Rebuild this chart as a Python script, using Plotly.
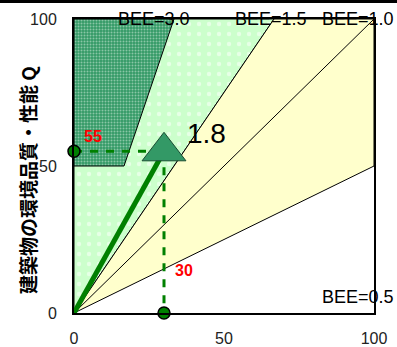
import plotly.graph_objects as go

# BEE boundary lines (Q = BEE * L)
bee_values = [3.0, 1.5, 1.0, 0.5]
bee_labels = ["BEE=3.0", "BEE=1.5", "BEE=1.0", "BEE=0.5"]

# S-rank lower bound of Q
s_rank_q = 50

# building result
point_L = 30
point_Q = 55
point_bee = "1.8"

axis_ticks = [0, 50, 100]

font_en = "Liberation Sans, Arial, sans-serif"
font_jp = "Noto Sans CJK JP, sans-serif"

fig = go.Figure()

b3, b15, b1, b05 = bee_values

# light green region (above BEE=1.5)
fig.add_trace(go.Scatter(
    x=[0, 100 / b15, 0, 0], y=[0, 100, 100, 0],
    mode="lines", fill="toself", line=dict(color="black", width=1),
    fillcolor="#ccffcc",
    fillpattern=dict(shape=".", bgcolor="#ccffcc", fgcolor="white", size=10, solidity=0.15),
    hoverinfo="skip"))

# yellow region (between BEE=1.5 and BEE=0.5)
fig.add_trace(go.Scatter(
    x=[0, 100, 100, 100 / b15, 0], y=[0, 100 * b05, 100, 100, 0],
    mode="lines", fill="toself", line=dict(color="black", width=1),
    fillcolor="#ffffcc", hoverinfo="skip"))

# dark green S region
fig.add_trace(go.Scatter(
    x=[0, s_rank_q / b3, 100 / b3, 0, 0], y=[s_rank_q, s_rank_q, 100, 100, s_rank_q],
    mode="lines", fill="toself", line=dict(color="black", width=1),
    fillcolor="#339966",
    fillpattern=dict(shape=".", bgcolor="#339966", fgcolor="#dff3e6", size=3, solidity=0.35),
    hoverinfo="skip"))

# BEE=1.0 line
fig.add_trace(go.Scatter(x=[0, 100], y=[0, 100 * b1], mode="lines",
                         line=dict(color="black", width=1), hoverinfo="skip"))

# dashed guide lines
fig.add_trace(go.Scatter(x=[0, point_L], y=[point_Q, point_Q], mode="lines",
                         line=dict(color="#008000", width=3, dash="8px,8px"), hoverinfo="skip"))
fig.add_trace(go.Scatter(x=[point_L, point_L], y=[point_Q, 0], mode="lines",
                         line=dict(color="#008000", width=3, dash="8px,8px"), hoverinfo="skip"))

# thick line from origin
fig.add_trace(go.Scatter(x=[0, point_L], y=[0, point_Q], mode="lines",
                         line=dict(color="#008000", width=5), hoverinfo="skip"))

# circles on axes
fig.add_trace(go.Scatter(x=[0, point_L], y=[point_Q, 0], mode="markers", cliponaxis=False,
                         marker=dict(size=12, color="#008000", line=dict(color="black", width=1.5)),
                         hoverinfo="skip"))

# result triangle
fig.add_trace(go.Scatter(x=[point_L], y=[point_Q], mode="markers", cliponaxis=False,
                         marker=dict(symbol="triangle-up", size=38, color="#339966",
                                     line=dict(color="#1a4d33", width=1)),
                         hoverinfo="skip"))


def pann(x, y, text, size, color="black", family=font_en, **kw):
    # position in axis units (0-100) but placed on paper so nothing is hidden
    return dict(x=x / 100, y=y / 100, xref="paper", yref="paper", text=text, showarrow=False,
                xanchor="center", yanchor="middle",
                font=dict(family=family, size=size, color=color), **kw)


ann = []
label_x = [26.5, 65.8, 94.8]
for i, lab in enumerate(bee_labels[:3]):
    ann.append(pann(label_x[i], 100, lab, 18))
ann.append(pann(94.8, 5.4, bee_labels[3], 18))
ann.append(pann(44, 61, point_bee, 28))
ann.append(pann(6.3, 60, "<b>%d</b>" % point_Q, 16, "red"))
ann.append(pann(36.7, 14.3, "<b>%d</b>" % point_L, 16, "red"))
ann.append(dict(x=-0.157, y=0.452, xref="paper", yref="paper", textangle=-90,
                xanchor="center", yanchor="middle",
                text="<b>建築物の環境品質・性能 Q</b>", showarrow=False,
                font=dict(family=font_jp, size=19, color="black")))

fig.update_layout(
    width=397, height=347,
    margin=dict(l=74, r=23, t=19, b=34),
    plot_bgcolor="white", paper_bgcolor="white",
    showlegend=False,
    annotations=ann,
)
fig.update_xaxes(range=[0, 100], tickvals=axis_ticks, showgrid=False, zeroline=False,
                 showline=True, linecolor="black", linewidth=2, mirror=True,
                 ticks="", ticklabelstandoff=10, automargin=False,
                 tickfont=dict(family=font_en, size=16, color="#222"))
fig.update_yaxes(range=[0, 100], tickvals=axis_ticks, showgrid=False, zeroline=False,
                 showline=True, linecolor="black", linewidth=2, mirror=True,
                 ticks="", ticklabelstandoff=12, automargin=False,
                 tickfont=dict(family=font_en, size=16, color="#222"))

# drop the default body margin, and draw the thin black strip along the top edge
js = """
document.body.style.margin='0';
var bar=document.createElement('div');
bar.style.cssText='position:absolute;left:0;top:0;width:397px;height:3px;background:#000;z-index:10';
document.body.appendChild(bar);
"""
fig.write_html("out.html", config={"displayModeBar": False}, post_script=js)
